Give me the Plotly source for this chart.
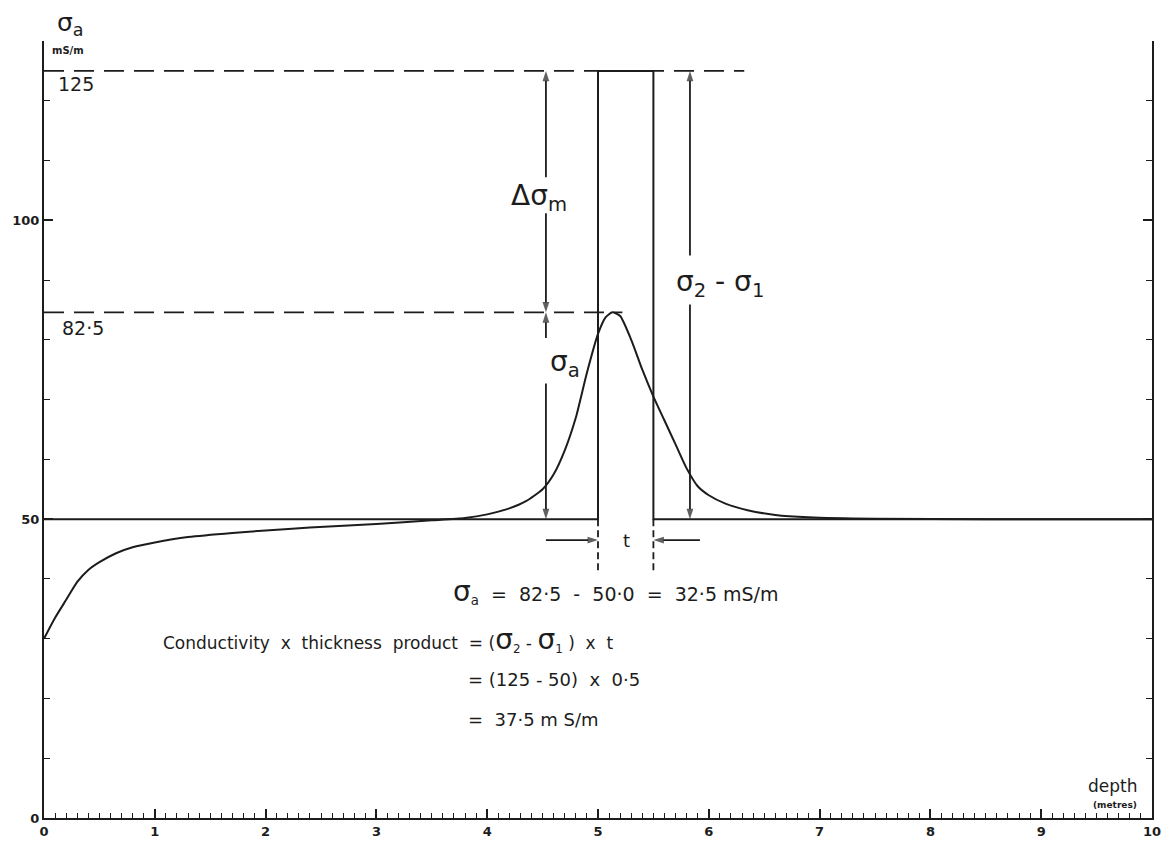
import plotly.graph_objects as go

# ---------------- data ----------------
depth = [0.0, 0.1, 0.2, 0.3, 0.4, 0.5, 0.65, 0.8, 1.0, 1.3, 1.7, 2.0, 2.4, 3.0, 3.5, 3.8,
         4.0, 4.2, 4.35, 4.5, 4.6, 4.7, 4.8, 4.9, 5.0, 5.07, 5.13, 5.2, 5.3, 5.4, 5.5,
         5.6, 5.7, 5.8, 5.9, 6.0, 6.15, 6.35, 6.6, 6.9, 7.5, 8.5, 10.0]
sigma_a = [30.0, 33.5, 36.5, 39.5, 41.5, 42.8, 44.3, 45.3, 46.1, 47.0, 47.7, 48.1, 48.6, 49.2, 49.8, 50.2,
           50.8, 51.8, 53.0, 55.0, 57.5, 61.5, 67.0, 74.5, 81.0, 83.8, 84.6, 84.0, 80.0, 75.0, 70.5,
           66.5, 62.5, 58.5, 55.5, 54.0, 52.6, 51.5, 50.7, 50.3, 50.05, 50.0, 50.0]

layer_x = [0.0, 5.0, 5.0, 5.5, 5.5, 10.0]
layer_y = [50, 50, 125, 125, 50, 50]

sigma1 = 50
sigma2 = 125
peak_level = 84.6          # drawn height of the 82.5 peak line
peak_label = "82·5"
top_label = "125"
t_left, t_right = 5.0, 5.5

x_ticks = list(range(0, 11))
y_tick_vals = [0, 50, 100]
y_tick_text = ["0", "50", "100"]
y_minor_vals = [10, 20, 30, 40, 60, 70, 80, 90, 110, 120, 130]

INK = "#1c1c1c"
FONT = "DejaVu Sans"

fig = go.Figure()

# step model (true conductivity)
fig.add_trace(go.Scatter(x=layer_x, y=layer_y, mode="lines",
                         line=dict(color=INK, width=2), hoverinfo="skip"))
# apparent conductivity curve
fig.add_trace(go.Scatter(x=depth, y=sigma_a, mode="lines",
                         line=dict(color=INK, width=2, shape="spline", smoothing=0.6),
                         hoverinfo="skip"))
# dashed reference lines
fig.add_trace(go.Scatter(x=[0, 6.32], y=[sigma2, sigma2], mode="lines",
                         line=dict(color=INK, width=1.8, dash="20px,10px"), hoverinfo="skip"))
fig.add_trace(go.Scatter(x=[0, 5.22], y=[peak_level, peak_level], mode="lines",
                         line=dict(color=INK, width=1.8, dash="20px,10px"), hoverinfo="skip"))
# dashed verticals marking thickness t
for xv in (t_left, t_right):
    fig.add_trace(go.Scatter(x=[xv, xv], y=[sigma1, 41.4], mode="lines",
                             line=dict(color=INK, width=1.8, dash="7px,4px"), hoverinfo="skip"))


def arrow(x_tip, y_tip, x_tail, y_tail):
    fig.add_trace(go.Scatter(x=[x_tail, x_tip], y=[y_tail, y_tip], mode="lines+markers",
                             line=dict(color=INK, width=1.8),
                             marker=dict(symbol="arrow", size=[0, 11], angleref="previous",
                                         color=INK, line=dict(width=0)),
                             hoverinfo="skip", cliponaxis=False))


x_dm = 4.53
# Δσm double arrow
arrow(x_dm, sigma2, x_dm, 107.2)
arrow(x_dm, peak_level, x_dm, 101.2)
# σa double arrow
arrow(x_dm, peak_level, x_dm, 80.3)
arrow(x_dm, sigma1, x_dm, 72.7)
# σ2-σ1 double arrow
x_s = 5.83
arrow(x_s, sigma2, x_s, 94.1)
arrow(x_s, sigma1, x_s, 85.9)
# t arrows
arrow(t_left, 46.5, 4.53, 46.5)
arrow(t_right, 46.5, 5.92, 46.5)

ann = []


def label(x, y, text, size, xanchor="center", yanchor="middle", weight="normal",
          xref="x", yref="y"):
    ann.append(dict(x=x, y=y, xref=xref, yref=yref, text=text, showarrow=False,
                    xanchor=xanchor, yanchor=yanchor,
                    font=dict(family=FONT, size=size, color=INK, weight=weight)))


big = 28
label(4.47, 103.8, "Δσ<sub>m</sub>", big)
label(6.10, 89.5, "σ<sub>2</sub> - σ<sub>1</sub>", big)
label(4.70, 76.0, "σ<sub>a</sub>", big)
label(5.26, 46.5, "t", 18)

# axis title (above the plot area, so paper coordinates)
label(0.235, 1.022, "σ<sub>a</sub>", 25, yref="paper")
label(0.215, 128.4, "mS/m", 10, weight="bold")
label(0.29, 122.8, top_label, 19)
label(0.35, 82.0, peak_label, 19)

label(9.64, 5.3, "depth", 17)
label(9.67, 2.2, "(metres)", 9, weight="bold")

sig = '<span style="font-size:28px">σ</span>'
label(3.67, 37.9, sig + "<sub>a</sub>  =  82·5  -  50·0  =  32·5 mS/m", 19, xanchor="left")
label(1.057, 29.9, "Conductivity  x  thickness  product  = (" + sig + "<sub>2</sub> - " + sig +
      "<sub>1</sub> )  x  t", 17, xanchor="left")
label(3.81, 23.2, "= (125 - 50)  x  0·5", 18, xanchor="left")
label(3.81, 16.5, "=  37·5 m S/m", 18, xanchor="left")

fig.update_layout(
    width=1173, height=851,
    margin=dict(l=42, r=15, t=41, b=19),
    paper_bgcolor="white", plot_bgcolor="white",
    showlegend=False,
    annotations=ann,
    xaxis=dict(range=[0, 10], tickvals=x_ticks, ticks="inside", ticklen=9, tickwidth=1.5,
               tickcolor=INK, showline=True, linecolor=INK, linewidth=2,
               showgrid=False, zeroline=False,
               tickfont=dict(family=FONT, size=13, color=INK, weight="bold"),
               minor=dict(dtick=0.1, ticks="inside", ticklen=5, tickwidth=1.3, tickcolor=INK,
                          showgrid=False)),
    yaxis=dict(range=[0, 130], tickvals=y_tick_vals, ticktext=y_tick_text, ticks="inside",
               ticklen=9, tickwidth=1.5, tickcolor=INK, showline=True, linecolor=INK,
               linewidth=2, mirror="ticks", showgrid=False, zeroline=False,
               tickfont=dict(family=FONT, size=13, color=INK, weight="bold"),
               minor=dict(tickvals=y_minor_vals, ticks="inside", ticklen=6, tickwidth=1.3,
                          tickcolor=INK, showgrid=False)),
)

fig.write_html("out.html")
